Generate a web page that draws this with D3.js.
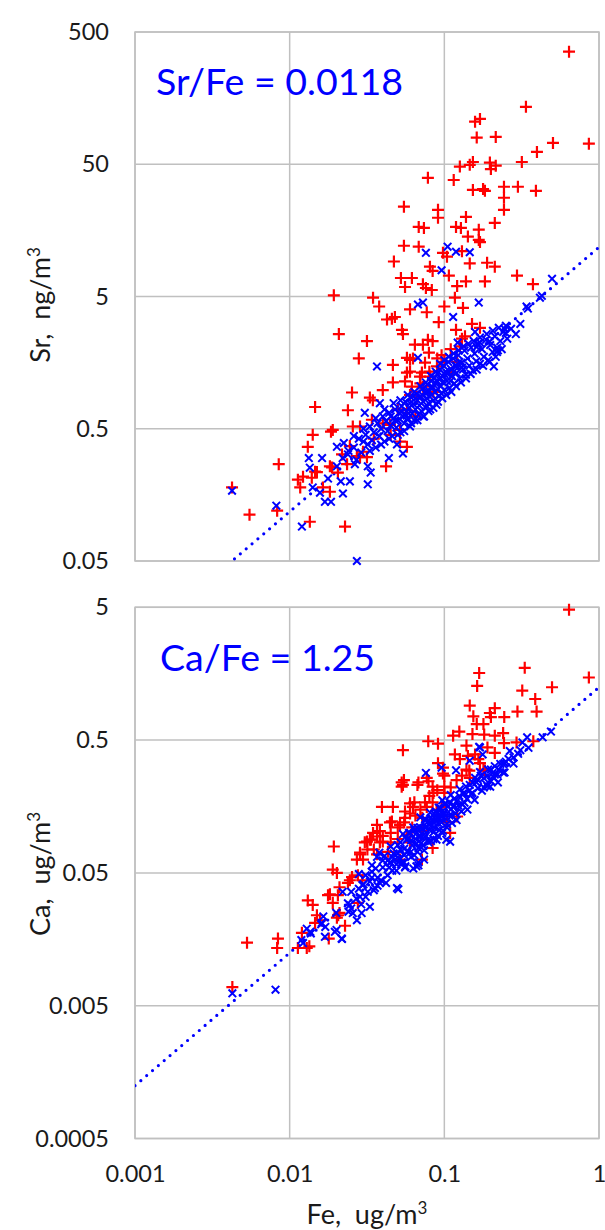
<!DOCTYPE html>
<html>
<head>
<meta charset="utf-8">
<script src="https://cdn.jsdelivr.net/npm/d3@7"></script>
<style>
  body { margin: 0; background: #fff; }
  svg text { font-family: Lato, "Open Sans", sans-serif; }
</style>
</head>
<body>
<div id="chart"></div>
<script>
// tick values
const xTicks = [0.001, 0.01, 0.1, 1]
const srTicks = [0.05, 0.5, 5, 50, 500]
const caTicks = [0.0005, 0.005, 0.05, 0.5, 5]

// fitted ratios (Sr is in ng, Fe and Ca in ug)
const srFeRatio = 0.0118
const caFeRatio = 1.25

// Sr panel: [Fe ug/m3, Sr ng/m3]
const srRed = [[0.64,355],[0.337,136],[0.158,105],[0.170,110],[0.162,79.5],[0.215,80.5],[0.504,72.5],[0.86,71.5],[0.397,62],[0.317,52],[0.153,52],[0.146,49.5],[0.126,48],[0.197,51.5],[0.215,48.8],[0.2,46],[0.0783,39.5],[0.115,38],[0.153,32],[0.178,32.5],[0.183,31.5],[0.243,33.8],[0.243,27.9],[0.299,33.8],[0.391,31.5],[0.0548,23.9],[0.091,22.6],[0.091,19.7],[0.243,22.6],[0.138,20],[0.212,18],[0.0683,16.8],[0.0738,16.5],[0.119,16.8],[0.128,16.5],[0.167,16],[0.142,14.2],[0.167,13.4],[0.17,12.9],[0.0548,12.1],[0.0683,11.9],[0.098,10.7],[0.104,10],[0.13,11],[0.0472,9.2],[0.0807,8.4],[0.084,7.8],[0.107,7.2],[0.146,8.9],[0.189,9.0],[0.212,8.4],[0.0524,6.9],[0.0617,6.9],[0.0557,5.9],[0.0727,6.2],[0.076,5.8],[0.083,5.6],[0.121,6.0],[0.138,6.5],[0.183,6.5],[0.295,7.2],[0.374,6.2],[0.0193,5.1],[0.0346,4.9],[0.117,4.9],[0.0379,4.2],[0.132,4.1],[0.1,4.2],[0.06,4.0],[0.077,3.8],[0.0426,3.35],[0.0479,3.5],[0.0458,3.4],[0.092,3.2],[0.0532,2.8],[0.054,2.6],[0.119,2.8],[0.151,3.1],[0.17,2.9],[0.136,2.5],[0.0783,2.35],[0.084,2.3],[0.0645,2.16],[0.0727,2.16],[0.0795,1.88],[0.096,1.8],[0.126,2.1],[0.0573,1.72],[0.0465,1.52],[0.06,1.66],[0.04,0.98],[0.0465,1.12],[0.0208,2.6],[0.0316,2.3],[0.028,1.7],[0.0627,1.7],[0.075,1.58],[0.0716,1.33],[0.06,1.35],[0.0253,0.94],[0.0146,0.73],[0.0238,0.69],[0.033,0.86],[0.0345,0.82],[0.019,0.49],[0.0185,0.475],[0.0141,0.45],[0.0131,0.365],[0.0256,0.52],[0.0285,0.52],[0.0218,0.32],[0.0245,0.37],[0.0146,0.237],[0.015,0.235],[0.0182,0.26],[0.0188,0.255],[0.0205,0.233],[0.0235,0.27],[0.0272,0.31],[0.0285,0.305],[0.0316,0.305],[0.0298,0.335],[0.042,0.26],[0.0573,0.365],[0.0517,0.40],[0.0085,0.27],[0.0113,0.206],[0.0122,0.217],[0.0117,0.18],[0.0139,0.213],[0.0164,0.18],[0.0182,0.167],[0.0083,0.12],[0.0135,0.099],[0.0228,0.091],[0.0055,0.112],[0.00424,0.18],[0.034,0.585],[0.0445,0.535],[0.0517,0.49],[0.0573,0.69],[0.0663,0.87],[0.0807,1.24],[0.0896,1.48],[0.1,1.6],[0.0557,1.14],[0.121,1.6],[0.112,1.33],[0.0696,1.24],[0.0727,1.04],[0.0573,1.33],[0.0617,1.04],
  [0.04,0.55],[0.05,0.7],[0.06,0.9],[0.07,1.1],[0.08,1.35],[0.09,1.7],[0.11,2.0],[0.13,2.4],[0.035,0.42],[0.045,0.45],[0.065,0.62],[0.085,0.95]]

const srBlue = [[0.00424,0.17],[0.0082,0.131],[0.012,0.091],[0.0272,0.05],[0.0367,1.48],[0.0675,1.72],[0.076,10.7],[0.105,11.9],[0.119,10.9],[0.146,10.8],[0.096,7.9],[0.497,6.8],[0.427,5.06],[0.415,4.9],[0.347,4.05],[0.34,4.2],[0.25,3.0],[0.245,2.85],[0.25,2.65],[0.167,4.5],[0.114,3.5],[0.0675,4.35],[0.0727,4.5],[0.158,2.7],[0.197,2.28],[0.219,1.9],[0.222,1.96],[0.162,2.08],[0.17,2.24],[0.209,1.48],[0.122,2.24],[0.0383,0.78],[0.0306,0.66],[0.0202,0.365],[0.0224,0.39],[0.0238,0.32],[0.0133,0.30],[0.0162,0.30],[0.0135,0.254],[0.0202,0.26],[0.0264,0.27],[0.032,0.26],[0.0334,0.233],[0.0438,0.30],[0.054,0.325],[0.0494,0.38],[0.0141,0.18],[0.0177,0.21],[0.0214,0.20],[0.0245,0.20],[0.032,0.19],[0.0157,0.164],[0.0221,0.162],[0.0169,0.14],[0.0185,0.14],
  [0.022,0.30],[0.024,0.34],[0.027,0.29],[0.030,0.40],[0.026,0.44],
  [0.026,0.36],[0.028,0.42],[0.029,0.33],[0.031,0.45],[0.032,0.38],[0.033,0.52],[0.034,0.41],[0.035,0.47],[0.036,0.36],[0.037,0.55],[0.038,0.44],[0.039,0.50],[0.040,0.62],[0.041,0.40],[0.042,0.57],[0.043,0.48],[0.044,0.66],[0.045,0.53],[0.046,0.44],[0.047,0.60],[0.048,0.70],[0.049,0.51],[0.050,0.58],[0.051,0.66],[0.052,0.47],[0.053,0.74],[0.054,0.62],[0.055,0.55],[0.056,0.80],[0.057,0.68],[0.058,0.60],[0.059,0.72],[0.060,0.52],[0.061,0.86],[0.062,0.65],[0.063,0.77],[0.064,0.58],[0.065,0.70],[0.066,0.92],[0.067,0.82],[0.068,0.64],[0.069,0.75],[0.070,0.88],[0.071,0.68],[0.072,1.00],[0.073,0.80],[0.074,0.62],[0.075,0.94],[0.076,0.72],[0.077,0.85],[0.078,1.08],[0.079,0.78],[0.080,0.96],[0.081,0.70],[0.082,1.15],[0.083,0.90],[0.084,1.02],[0.085,0.82],[0.086,1.22],[0.087,0.95],[0.088,1.10],[0.089,0.76],[0.090,1.30],[0.091,1.00],[0.092,0.88],[0.093,1.18],[0.094,1.40],[0.095,1.05],[0.096,0.92],[0.097,1.26],[0.098,1.12],[0.099,1.50],[0.100,0.98],[0.102,1.35],[0.104,1.15],[0.106,1.60],[0.108,1.02],[0.110,1.42],[0.112,1.25],[0.114,1.70],[0.116,1.10],[0.118,1.50],[0.120,1.32],[0.123,1.80],[0.126,1.20],[0.129,1.58],[0.132,1.40],[0.135,1.95],[0.138,1.28],[0.141,1.70],[0.145,1.50],[0.149,2.05],[0.153,1.38],[0.157,1.85],[0.161,1.62],[0.165,2.20],[0.170,1.55],[0.175,2.00],[0.180,1.75],[0.186,2.35],[0.192,1.65],[0.198,2.15],[0.205,1.90],[0.212,2.50],[0.220,2.05],[0.230,2.30],[0.240,2.70],[0.255,2.40],[0.270,2.85],[0.290,2.60],[0.310,3.10],
  [0.030,0.50],[0.033,0.34],[0.036,0.60],[0.039,0.38],[0.041,0.70],[0.044,0.42],[0.047,0.78],[0.050,0.45],[0.052,0.82],[0.055,0.48],[0.058,0.90],[0.061,0.55],[0.064,0.95],[0.067,0.58],[0.070,1.05],[0.073,0.62],[0.076,1.12],[0.079,0.68],[0.082,1.25],[0.085,0.72],[0.088,1.35],[0.091,0.80],[0.094,1.55],[0.097,0.85],[0.100,1.65],[0.103,0.90],[0.107,1.75],[0.111,0.95],[0.115,1.85],[0.119,1.05],[0.124,1.95],[0.128,1.12],[0.133,2.1],[0.138,1.2],[0.143,2.2],[0.148,1.3],[0.155,2.3],[0.162,1.4],[0.170,2.45],[0.178,1.5],[0.188,2.6],[0.196,1.6],[0.206,2.75],[0.215,1.75],[0.225,2.9],[0.235,2.0],[0.06,0.78],[0.065,0.85],[0.072,0.9],[0.078,0.95],[0.083,1.05],[0.089,1.15],[0.095,1.2],[0.1,1.3],[0.105,1.3],[0.11,1.15],[0.115,1.35],[0.12,1.5],[0.125,1.6],[0.13,1.45],[0.045,0.62],[0.048,0.58],[0.053,0.67],[0.057,0.63]]

// Ca panel: [Fe ug/m3, Ca ug/m3]
const caRed = [[0.64,4.8],[0.168,1.6],[0.163,1.28],[0.331,1.75],[0.86,1.48],[0.497,1.25],[0.319,1.18],[0.387,1.02],[0.146,0.91],[0.212,0.87],[0.197,0.80],[0.20,0.745],[0.244,0.745],[0.297,0.82],[0.395,0.82],[0.154,0.755],[0.162,0.66],[0.179,0.66],[0.114,0.54],[0.125,0.58],[0.152,0.555],[0.181,0.55],[0.212,0.54],[0.24,0.565],[0.243,0.475],[0.293,0.48],[0.376,0.49],[0.0787,0.49],[0.091,0.47],[0.054,0.42],[0.139,0.455],[0.19,0.44],[0.212,0.40],[0.117,0.39],[0.126,0.36],[0.142,0.38],[0.158,0.39],[0.166,0.36],[0.17,0.335],[0.091,0.335],[0.098,0.28],[0.10,0.27],[0.145,0.295],[0.183,0.295],[0.0548,0.25],[0.098,0.31],[0.139,0.30],[0.146,0.26],[0.179,0.30],[0.077,0.26],[0.079,0.245],[0.068,0.24],[0.084,0.223],[0.10,0.223],[0.053,0.24],[0.054,0.23],[0.067,0.23],[0.053,0.223],[0.0395,0.157],[0.0465,0.157],[0.06,0.167],[0.0627,0.157],[0.064,0.17],[0.077,0.157],[0.084,0.17],[0.0896,0.15],[0.096,0.157],[0.0445,0.12],[0.0517,0.115],[0.0367,0.115],[0.0346,0.10],[0.0367,0.094],[0.0383,0.103],[0.033,0.089],[0.0383,0.085],[0.0306,0.085],[0.0318,0.075],[0.0285,0.071],[0.0272,0.063],[0.0193,0.079],[0.019,0.053],[0.0202,0.05],[0.0253,0.0465],[0.0245,0.044],[0.0238,0.042],[0.0177,0.034],[0.0205,0.034],[0.021,0.039],[0.021,0.025],[0.0202,0.023],[0.0131,0.031],[0.0141,0.0287],[0.015,0.024],[0.0157,0.022],[0.0146,0.021],[0.0228,0.02],[0.012,0.0177],[0.0053,0.0149],[0.0084,0.016],[0.0083,0.0136],[0.0113,0.0136],[0.0129,0.0136],[0.00426,0.0069],[0.0134,0.014],[0.0182,0.0345],[0.019,0.0297],[0.0206,0.024],[0.0179,0.016],[0.0276,0.0297],[0.084,0.077],[0.0716,0.063],[0.109,0.10],[0.0458,0.122],[0.0557,0.145],[0.0557,0.13],[0.0316,0.086],[0.0335,0.089],[0.04,0.086],[0.0285,0.069],[0.0298,0.063],[0.0276,0.048],[0.0295,0.044],[0.0367,0.069],[0.0432,0.072],[0.0517,0.063],[0.104,0.12],[0.121,0.133],[0.0573,0.097],[0.0716,0.103],[0.06,0.085],
  [0.035,0.075],[0.04,0.095],[0.045,0.1],[0.05,0.11],[0.055,0.12],[0.06,0.14],[0.065,0.135],[0.07,0.15],[0.075,0.17],[0.08,0.19],[0.085,0.2],[0.09,0.21],[0.1,0.2],[0.11,0.22],[0.12,0.25],[0.13,0.27],[0.045,0.085],[0.05,0.09],[0.062,0.11],[0.072,0.13]]

const caBlue = [[0.00426,0.0062],[0.0081,0.0066],[0.343,0.525],[0.432,0.525],[0.489,0.58],[0.168,0.445],[0.146,0.35],[0.245,0.335],[0.245,0.285],[0.212,0.275],[0.119,0.296],[0.096,0.31],[0.076,0.283],[0.17,0.44],[0.177,0.39],[0.222,0.24],[0.2,0.245],[0.19,0.225],[0.103,0.089],[0.109,0.086],[0.063,0.054],[0.068,0.057],[0.0504,0.0376],[0.033,0.0278],[0.0292,0.0249],[0.0272,0.022],[0.0217,0.016],[0.0196,0.018],[0.0169,0.0165],[0.0129,0.019],[0.0137,0.0175],[0.0122,0.0148],[0.0119,0.0156],[0.017,0.0196],[0.0165,0.0235],[0.016,0.0205],[0.0136,0.018],[0.0161,0.021],[0.0201,0.0186],[0.0218,0.0159],[0.0256,0.0249],[0.0245,0.0287],[0.0238,0.0295],[0.0285,0.033],[0.0295,0.0405],[0.0356,0.0385],[0.0383,0.042],[0.0494,0.0385],[0.034,0.051],[0.0367,0.066],[0.0445,0.06],[0.0527,0.058],[0.0557,0.055],[0.066,0.056],[0.068,0.06],[0.074,0.063],
  [0.020,0.025],[0.022,0.036],[0.024,0.0255],[0.025,0.036],[0.027,0.032],[0.028,0.049],[0.029,0.029],[0.030,0.041],[0.031,0.048],[0.032,0.036],[0.033,0.043],[0.034,0.057],[0.035,0.037],[0.036,0.054],[0.037,0.046],[0.038,0.071],[0.039,0.044],[0.040,0.055],[0.041,0.067],[0.042,0.042],[0.043,0.062],[0.044,0.055],[0.045,0.079],[0.046,0.052],[0.047,0.070],[0.048,0.063],[0.049,0.052],[0.050,0.081],[0.051,0.064],[0.052,0.075],[0.053,0.060],[0.054,0.098],[0.055,0.076],[0.056,0.056],[0.057,0.089],[0.058,0.073],[0.059,0.10],[0.060,0.071],[0.061,0.088],[0.062,0.081],[0.063,0.11],[0.064,0.068],[0.065,0.098],[0.066,0.083],[0.067,0.109],[0.068,0.077],[0.069,0.095],[0.070,0.131],[0.071,0.084],[0.072,0.108],[0.073,0.096],[0.074,0.074],[0.075,0.127],[0.076,0.095],[0.077,0.111],[0.078,0.088],[0.079,0.123],[0.080,0.105],[0.081,0.142],[0.082,0.087],[0.083,0.114],[0.084,0.126],[0.085,0.101],[0.086,0.14],[0.087,0.109],[0.088,0.127],[0.089,0.089],[0.090,0.141],[0.091,0.119],[0.092,0.155],[0.093,0.105],[0.094,0.129],[0.095,0.143],[0.096,0.12],[0.097,0.176],[0.098,0.104],[0.099,0.142],[0.100,0.131],[0.102,0.166],[0.104,0.117],[0.106,0.159],[0.108,0.135],[0.110,0.193],[0.112,0.119],[0.114,0.157],[0.116,0.181],[0.118,0.14],[0.120,0.173],[0.123,0.161],[0.126,0.213],[0.129,0.145],[0.132,0.198],[0.135,0.169],[0.138,0.224],[0.141,0.15],[0.145,0.208],[0.149,0.196],[0.153,0.239],[0.157,0.177],[0.161,0.241],[0.165,0.217],[0.170,0.287],[0.175,0.208],[0.180,0.259],[0.186,0.233],[0.192,0.30],[0.198,0.223],[0.205,0.282],[0.212,0.318],[0.220,0.275],[0.230,0.331],[0.240,0.285],[0.250,0.344],[0.265,0.414],[0.280,0.333],[0.300,0.394],[0.320,0.48],[0.350,0.4375],
  [0.025,0.027],[0.028,0.038],[0.031,0.033],[0.034,0.046],[0.037,0.040],[0.04,0.062],[0.043,0.048],[0.046,0.066],[0.049,0.058],[0.052,0.085],[0.055,0.06],[0.058,0.09],[0.061,0.066],[0.064,0.105],[0.067,0.072],[0.07,0.11],[0.073,0.08],[0.076,0.125],[0.079,0.085],[0.082,0.13],[0.085,0.09],[0.088,0.145],[0.091,0.095],[0.094,0.155],[0.097,0.1],[0.1,0.165],[0.104,0.11],[0.108,0.17],[0.112,0.135],[0.116,0.16],[0.12,0.125],[0.125,0.19],[0.13,0.165],[0.135,0.2],[0.14,0.18],[0.146,0.23],[0.152,0.2],[0.158,0.26],[0.165,0.25],[0.172,0.27],[0.18,0.22],[0.19,0.27],[0.2,0.3],[0.21,0.26],[0.225,0.3],[0.24,0.33],[0.26,0.36],[0.28,0.37],[0.31,0.42],[0.06,0.1],[0.065,0.09],[0.07,0.095],[0.075,0.11],[0.08,0.115],[0.085,0.12],[0.09,0.13],[0.095,0.135],[0.1,0.14],[0.11,0.15],[0.05,0.07],[0.055,0.068],[0.045,0.06]]

const W = 605, H = 1230
const left = 135, right = 599
const gridColor = "#c0c0c0"
const labelFont = "Lato, 'Open Sans', sans-serif"

const svg = d3.select("#chart").append("svg")
  .attr("width", W).attr("height", H)

const x = d3.scaleLog().domain([0.001, 1]).range([left, right])

const plusPath = "M-6,0H6M0,-6V6"
const crossPath = "M-3.8,-3.8L3.8,3.8M-3.8,3.8L3.8,-3.8"

function drawPanel(opt) {
  let y = d3.scaleLog().domain(opt.domain).range([opt.bottom, opt.top])
  let g = svg.append("g")

  // horizontal grid
  g.selectAll("line.hg").data(opt.yTicks).enter().append("line")
    .attr("x1", left).attr("x2", right)
    .attr("y1", d => y(d)).attr("y2", d => y(d))
    .attr("stroke", gridColor).attr("stroke-width", 1.5)

  // vertical grid
  g.selectAll("line.vg").data(xTicks).enter().append("line")
    .attr("x1", d => x(d)).attr("x2", d => x(d))
    .attr("y1", opt.top).attr("y2", opt.bottom)
    .attr("stroke", gridColor).attr("stroke-width", 1.5)

  g.append("rect")
    .attr("x", left).attr("y", opt.top)
    .attr("width", right - left).attr("height", opt.bottom - opt.top)
    .attr("fill", "none").attr("stroke", gridColor).attr("stroke-width", 1.5)

  // y tick labels
  let yAxis = d3.axisLeft(y).tickValues(opt.yTicks).tickSize(0).tickPadding(26)
    .tickFormat(d => String(d))
  let ya = g.append("g").attr("transform", "translate(" + left + ",0)").call(yAxis)
  ya.select(".domain").remove()
  ya.selectAll("text").attr("font-size", 23.5).attr("fill", "#1a1a1a")
    .style("font-family", labelFont)

  // dotted fit line, clipped to the plot box
  let clipId = "clip" + opt.id
  svg.append("clipPath").attr("id", clipId).append("rect")
    .attr("x", left).attr("y", opt.top)
    .attr("width", right - left).attr("height", opt.bottom - opt.top)
  let line = d3.line().x(d => x(d[0])).y(d => y(d[1]))
  g.append("path")
    .datum(x.domain().map(f => [f, f * opt.slope]))
    .attr("d", line)
    .attr("clip-path", "url(#" + clipId + ")")
    .attr("fill", "none").attr("stroke", "#0000ff")
    .attr("stroke-width", 3.2).attr("stroke-linecap", "round")
    .attr("stroke-dasharray", "0,7.7")

  // markers: red plus first, blue cross on top
  g.selectAll("path.red").data(opt.red).enter().append("path")
    .attr("class", "red")
    .attr("d", plusPath)
    .attr("transform", d => "translate(" + x(d[0]) + "," + y(d[1]) + ")")
    .attr("stroke", "#ff0000").attr("stroke-width", 2.2).attr("fill", "none")

  g.selectAll("path.blue").data(opt.blue).enter().append("path")
    .attr("class", "blue")
    .attr("d", crossPath)
    .attr("transform", d => "translate(" + x(d[0]) + "," + y(d[1]) + ")")
    .attr("stroke", "#0000ff").attr("stroke-width", 2).attr("fill", "none")

  // ratio label
  g.append("text")
    .attr("x", opt.labelX).attr("y", opt.labelY)
    .attr("font-size", 37.5).attr("fill", "#0000ff")
    .text(opt.label)

  // y title
  let yt = g.append("text")
    .attr("transform", "translate(50," + opt.titleY + ") rotate(-90)")
    .attr("text-anchor", "middle")
    .attr("font-size", 27).attr("fill", "#1a1a1a")
  yt.append("tspan").text(opt.title)
  yt.append("tspan").attr("font-size", 17).attr("dy", -10).text("3")

  return y
}

drawPanel({
  id: "sr", domain: [0.05, 500], top: 32, bottom: 561,
  yTicks: srTicks, red: srRed, blue: srBlue,
  slope: srFeRatio * 1000,
  label: "Sr/Fe = " + srFeRatio, labelX: 156, labelY: 95,
  title: "Sr,\u00a0 ng/m", titleY: 305
})

drawPanel({
  id: "ca", domain: [0.0005, 5], top: 607.3, bottom: 1138.5,
  yTicks: caTicks, red: caRed, blue: caBlue,
  slope: caFeRatio,
  label: "Ca/Fe = " + caFeRatio, labelX: 160, labelY: 671,
  title: "Ca,\u00a0 ug/m", titleY: 874
})

// x tick labels under the Ca panel
let xa = svg.append("g").attr("transform", "translate(0,1138.5)")
  .call(d3.axisBottom(x).tickValues(xTicks).tickSize(0).tickPadding(27).tickFormat(d => String(d)))
xa.select(".domain").remove()
xa.selectAll("text").attr("font-size", 23.5).attr("fill", "#1a1a1a")
  .style("font-family", labelFont)

let xt = svg.append("text")
  .attr("x", (left + right) / 2).attr("y", 1224)
  .attr("text-anchor", "middle").attr("font-size", 27).attr("fill", "#1a1a1a")
xt.append("tspan").text("Fe,\u00a0 ug/m")
xt.append("tspan").attr("font-size", 17).attr("dy", -10).text("3")
</script>
</body>
</html>
